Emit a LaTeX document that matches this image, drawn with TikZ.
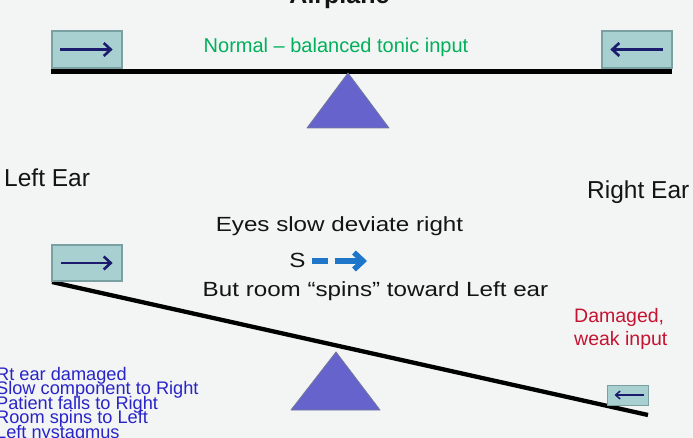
\documentclass[tikz,border=0pt]{standalone}
\usepackage{fontspec}
\setmainfont{Liberation Sans}
\usepackage{graphicx}
\usetikzlibrary{arrows.meta}
\definecolor{bgc}{RGB}{243,245,245}
\definecolor{boxfill}{RGB}{168,208,209}
\definecolor{boxline}{RGB}{122,160,162}
\definecolor{navy}{RGB}{28,28,110}
\definecolor{trifill}{RGB}{102,100,204}
\definecolor{triline}{RGB}{112,122,150}
\definecolor{normgreen}{RGB}{0,176,90}
\definecolor{dmgred}{RGB}{196,20,50}
\definecolor{listblue}{RGB}{40,36,200}
\definecolor{sblue}{RGB}{30,118,200}
\definecolor{darktext}{RGB}{20,20,20}
\tikzset{
  earbox/.style={draw=boxline, line width=1.3pt, fill=boxfill, inner sep=0pt},
  tonearrow/.style={navy, line width=2.6pt, -{Straight Barb[length=7pt,width=13pt]}},
  smallarrow/.style={navy, line width=1.5pt, -{Straight Barb[length=4.5pt,width=8pt]}},
  beam/.style={black, line width=4.8pt},
  fulcrum/.style={fill=trifill, draw=triline, line width=0.8pt, line join=round},
  midtext/.style={text=darktext, inner sep=0pt, anchor=base, font=\fontsize{20.5}{24}\selectfont},
  eartext/.style={text=darktext, inner sep=0pt, anchor=base west, font=\fontsize{24.5}{28}\selectfont},
  listtext/.style={text=listblue, inner sep=0pt, anchor=base west, font=\fontsize{18.2}{18}\selectfont},
  dmgtext/.style={text=dmgred, inner sep=0pt, anchor=base west, font=\fontsize{19.5}{22}\selectfont}
}
\begin{document}
\begin{tikzpicture}[x=1pt,y=-1pt]
\fill[bgc] (0,0) rectangle (693,438);
\useasboundingbox (0,0) rectangle (693,438);

% title (cut off at top)
\node[inner sep=0pt, anchor=base, text=darktext, font=\fontsize{25}{28}\selectfont\bfseries] (title) at (339.5,4) {Airplane};

% top balance
\coordinate (tb1) at (51,71.5);
\coordinate (tb2) at (672,71.5);
\draw[beam] (tb1) -- (tb2);
\fill[fulcrum] (348,73) -- (389,128) -- (307,128) -- cycle;

\node[earbox, minimum width=70pt, minimum height=37pt] (tl) at (87,49.5) {};
\node[earbox, minimum width=70pt, minimum height=37pt] (tr) at (637,49.5) {};
\draw[tonearrow] ([xshift=9pt]tl.west) -- ([xshift=-10pt]tl.east);
\draw[tonearrow] ([xshift=-10pt]tr.east) -- ([xshift=9pt]tr.west);

\node[inner sep=0pt, anchor=base, text=normgreen, font=\fontsize{20}{24}\selectfont] (normal) at (336,52.5) {Normal -- balanced tonic input};

% ears
\node[eartext] (lear) at (4,187) {Left Ear};
\node[eartext] (rear) at (587,199) {Right Ear};

% middle texts
\node[midtext] (eyes) at (339.5,232) {\scalebox{1.18}[1]{Eyes slow deviate right}};
\node[midtext] (s) at (297.5,268) {\scalebox{1.18}[1]{S}};
\node[midtext] (room) at (375.5,297) {\scalebox{1.18}[1]{But room “spins” toward Left ear}};
\coordinate (d1) at (312,261);
\coordinate (d2) at (328,261);
\coordinate (a1) at (335,261);
\coordinate (a2) at (367,261);
\draw[sblue, line width=5.5pt] (d1) -- (d2);
\draw[sblue, line width=5.5pt, -{Straight Barb[length=9pt,width=17pt]}] (a1) -- (a2);

% tilted balance
\coordinate (lb1) at (52,282);
\coordinate (lb2) at (648,415);
\draw[beam, line width=4.3pt] (lb1) -- (lb2);
\fill[fulcrum] (336,352) -- (380,410) -- (291,410) -- cycle;

\node[earbox, minimum width=70pt, minimum height=36pt] (bl) at (87,263) {};
\draw[tonearrow] ([xshift=10pt]bl.west) -- ([xshift=-10pt]bl.east);
\node[earbox, line width=1pt, minimum width=41pt, minimum height=20pt] (br) at (627.5,395) {};
\draw[smallarrow] ([xshift=-5pt]br.east) -- ([xshift=8pt]br.west);

% damaged label
\node[dmgtext] (dmg1) at (574,322) {Damaged,};
\node[dmgtext] (dmg2) at (574,345.5) {weak input};

% summary list
\node[listtext] (l1) at (-4,380) {Rt ear damaged};
\node[listtext] (l2) at (-4,394.6) {Slow component to Right};
\node[listtext] (l3) at (-4,409.2) {Patient falls to Right};
\node[listtext] (l4) at (-4,423.8) {Room spins to Left};
\node[listtext] (l5) at (-4,438.4) {Left nystagmus};
\end{tikzpicture}
\end{document}
